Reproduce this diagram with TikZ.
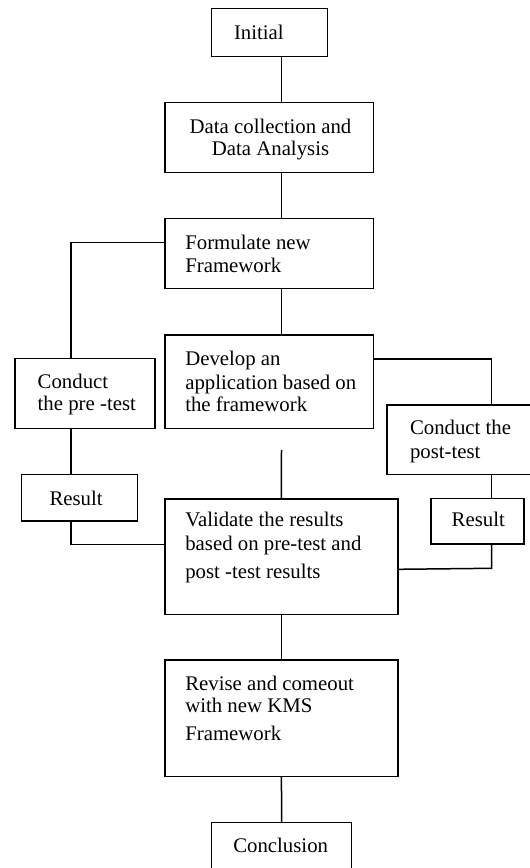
\documentclass[tikz,border=0pt]{standalone}
\usepackage{fontspec}
\setmainfont{Liberation Serif}
\begin{document}
\begin{tikzpicture}[x=1pt,y=-1pt,
  box/.style={draw=black, line width=1.5pt, rectangle, inner sep=0pt, outer sep=0pt},
  txt/.style={inner sep=0pt, outer sep=0pt, anchor=base west, font=\fontsize{20.8}{24}\selectfont},
  ctxt/.style={txt, anchor=base},
  conn/.style={draw=black, line width=1.5pt}]
\useasboundingbox (0,0) rectangle (530,868);
\clip (0,0) rectangle (530,868);
\fill[white] (0,0) rectangle (530,868);
% boxes
\node[box, minimum width=116pt, minimum height=48.4pt] (init) at (269.3,32.5) {};
\node[box, minimum width=208.6pt, minimum height=70.4pt] (data) at (269.3,137.5) {};
\node[box, minimum width=208.6pt, minimum height=70pt] (form) at (269.3,253.3) {};
\node[box, minimum width=208.6pt, minimum height=93.3pt] (dev) at (269.3,381.65) {};
\node[box, minimum width=140pt, minimum height=70pt] (pre) at (85,393.3) {};
\node[box, minimum width=116pt, minimum height=46.7pt] (resL) at (79.5,497.65) {};
\node[box, minimum width=158pt, minimum height=69.3pt] (post) at (466,439.65) {};
\node[box, minimum width=93pt, minimum height=45.7pt] (resR) at (477.5,521.15) {};
\node[box, minimum width=232.9pt, minimum height=115.3pt] (val) at (281.45,556.65) {};
\node[box, minimum width=232.9pt, minimum height=116.7pt] (rev) at (281.45,718.35) {};
\node[box, minimum width=140.2pt, minimum height=77.3pt] (concl) at (281.6,861.35) {};
% texts
\node[txt] (tInit) at (234,39.3) {Initial};
\node[ctxt] (tData1) at (270.5,133.3) {Data collection and};
\node[ctxt] (tData2) at (270.5,155) {Data Analysis};
\node[txt] (tForm1) at (185.3,249.3) {Formulate new};
\node[txt] (tForm2) at (185.3,272.7) {Framework};
\node[txt] (tDev1) at (185.3,365.7) {Develop an};
\node[txt] (tDev2) at (185.3,389) {application based on};
\node[txt] (tDev3) at (185.3,411) {the framework};
\node[txt] (tPre1) at (37.7,388.3) {Conduct};
\node[txt] (tPre2) at (37.7,410.7) {the pre -test};
\node[txt] (tResL) at (49.5,505.5) {Result};
\node[txt] (tPost1) at (410,434.3) {Conduct the};
\node[txt] (tPost2) at (410,458.3) {post-test};
\node[txt] (tResR) at (451.7,526.7) {Result};
\node[txt] (tVal1) at (185.3,526.7) {Validate the results};
\node[txt] (tVal2) at (185.3,550) {based on pre-test and};
\node[txt] (tVal3) at (185.3,578.3) {post -test results};
\node[txt] (tRev1) at (185.3,690.7) {Revise and comeout};
\node[txt] (tRev2) at (185.3,712.7) {with new KMS};
\node[txt] (tRev3) at (185.3,740) {Framework};
\node[txt] (tConcl) at (233.3,852.7) {Conclusion};
% helper coordinates
\coordinate (trunk) at (281.5,0);
\coordinate (lx) at (71,242.3);
\coordinate (lb) at (71,544.3);
\coordinate (rx) at (491.7,359);
\coordinate (rb) at (491.7,568.3);
\coordinate (rv) at (397.9,569.3);
\coordinate (mid) at (281.5,450);
% connectors
\draw[conn] (init.south -| trunk) -- (data.north -| trunk);
\draw[conn] (data.south -| trunk) -- (form.north -| trunk);
\draw[conn] (form.south -| trunk) -- (dev.north -| trunk);
\draw[conn] (form.west |- lx) -- (lx) -- (pre.north -| lx);
\draw[conn] (pre.south -| lx) -- (resL.north -| lx);
\draw[conn] (resL.south -| lb) -- (lb) -- (val.west |- lb);
\draw[conn] (dev.east |- rx) -- (rx) -- (post.north -| rx);
\draw[conn] (post.south -| rx) -- (resR.north -| rx);
\draw[conn] (resR.south -| rb) -- (rb) -- (val.east |- rv);
\draw[conn] (mid) -- (val.north);
\draw[conn] (val.south) -- (rev.north);
\draw[conn] (rev.south) -- (concl.north);
\end{tikzpicture}
\end{document}
